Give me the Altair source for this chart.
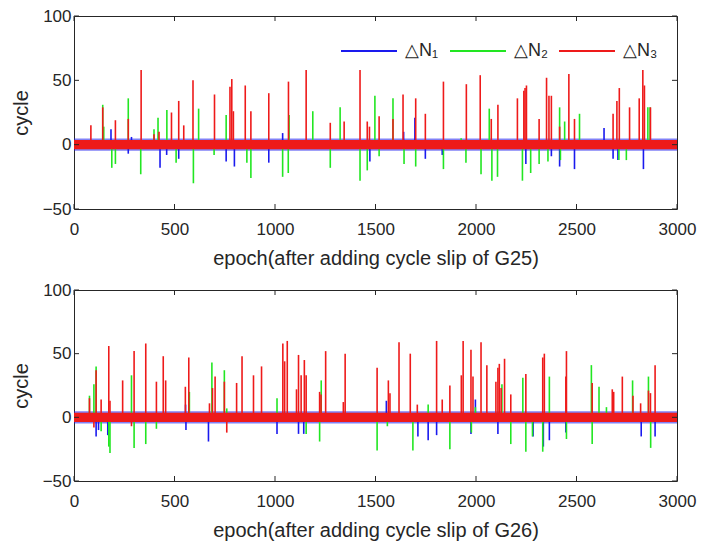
import altair as alt
import pandas as pd

# ---------------- data ----------------
series_names = ["△N₁", "△N₂", "△N₃"]
series_colors = ["#1a1aee", "#22e622", "#ee1a1a"]

x_ticks = [0, 500, 1000, 1500, 2000, 2500, 3000]
y_ticks = [-50, 0, 50, 100]
epoch_range = [0, 3000]

# baseline noise band limits (cycles) for the blue and red series
noise_blue = [-4.8, 4.8]
noise_red = [-3.6, 3.6]

# panel 1: G25  (epoch, cycle-slip value)
blue_g25 = [(184, 12), (270, -7), (286, 6), (428, -18), (461, -8), (521, -11),
            (757, -13), (798, -17), (969, -14), (1038, 9), (1472, -13), (1640, 10),
            (1696, 21), (1748, -11), (1832, -8), (2248, -15), (2375, -9), (2416, -17),
            (2490, -19), (2637, 13), (2682, -11), (2706, -12), (2833, -19)]
green_g25 = [(143, 31), (148, 14), (188, -18), (206, -15), (270, 36), (332, -23),
             (398, 12), (418, 21), (462, 27), (508, -14), (594, -30), (620, 28),
             (697, -8), (757, 23), (860, -14), (880, -26), (1038, -25), (1066, -22),
             (1070, 23), (1188, 26), (1275, -18), (1324, 29), (1423, -28), (1459, -20),
             (1497, 38), (1518, -9), (1587, 36), (1642, -15), (1700, -17), (1838, -19),
             (1926, 5), (1950, -14), (2025, -23), (2066, 28), (2079, -28), (2107, -25),
             (2231, -28), (2272, -22), (2314, -15), (2358, -13), (2416, 29), (2420, -12),
             (2441, 18), (2515, 24), (2711, -12), (2748, -12), (2855, 29), (2866, 29)]
red_g25 = [(84, 15), (143, 29), (206, 19), (270, 20), (334, 58), (398, 8), (423, 10),
           (485, 25), (521, 34), (546, 15), (592, 50), (699, 39), (776, 45), (785, 51),
           (793, 26), (852, 46), (880, 26), (969, 40), (1067, 49), (1155, 58), (1275, 17),
           (1344, 18), (1423, 58), (1459, 18), (1470, 14), (1518, 22), (1587, 20),
           (1637, 39), (1700, 36), (1748, 24), (1838, 49), (1952, 47), (2021, 54),
           (2076, 20), (2109, 31), (2206, 36), (2238, 42), (2244, 44), (2251, 46),
           (2314, 20), (2351, 52), (2363, 38), (2375, 38), (2416, 14), (2462, 55),
           (2490, 20), (2682, 24), (2701, 34), (2713, 44), (2764, 29), (2812, 36),
           (2830, 58), (2838, 46), (2868, 29)]

# panel 2: G26
blue_g26 = [(110, -15), (122, -10), (168, -14), (555, 10), (557, -10), (669, -19),
            (1010, -13), (1117, -13), (1143, -13), (1554, 13), (1711, -15), (1762, -18),
            (1804, -14), (1975, -13), (1997, 14), (2109, -13), (2284, -15), (2335, -23),
            (2365, -18), (2447, -12), (2822, -15), (2891, -15)]
green_g26 = [(77, 17), (99, 26), (110, 40), (135, -11), (173, -23), (179, -28),
             (286, 33), (299, -24), (357, -21), (410, -9), (574, 20), (686, 43),
             (748, 37), (760, 7), (1010, 15), (1155, -13), (1222, -19), (1230, 29),
             (1508, -26), (1559, -7), (1686, -26), (1762, 10), (1870, -25), (1977, -12),
             (1997, 8), (2129, 26), (2173, -21), (2233, 31), (2248, -27), (2281, -15),
             (2332, -27), (2365, 32), (2450, -17), (2574, 41), (2578, -21), (2612, 24),
             (2649, 8), (2779, 29), (2858, 32), (2869, -24)]
red_g26 = [(77, 15), (99, -8), (110, 37), (135, 14), (173, 56), (179, 13), (242, 29),
           (286, -7), (299, 52), (357, 58), (410, 28), (444, 48), (456, 29), (554, 24),
           (571, 47), (674, 11), (689, 23), (702, 32), (748, 28), (760, -12), (809, 27),
           (836, 48), (893, 33), (933, 40), (1039, 58), (1048, 44), (1061, 60),
           (1107, 22), (1117, 49), (1130, 33), (1146, 45), (1155, 33), (1222, 20),
           (1229, 18), (1252, 52), (1340, 12), (1349, 50), (1508, 39), (1564, 29),
           (1572, 19), (1617, 59), (1673, 50), (1708, 10), (1804, 60), (1832, 14),
           (1870, 25), (1927, 33), (1936, 60), (1975, 53), (1985, 32), (2025, 59),
           (2054, 41), (2099, 28), (2109, 39), (2116, 42), (2125, 23), (2142, 46),
           (2173, 18), (2248, 34), (2332, 47), (2340, 50), (2447, 32), (2450, 52),
           (2578, 27), (2678, 22), (2685, 20), (2728, 32), (2781, 17), (2819, 11),
           (2858, 21), (2868, 19), (2891, 41)]

# ---------------- chart ----------------
W = 603
FONT = "Liberation Sans"
INK = "#262626"


def panel(blue, green, red, xtitle, height, show_legend):
    rows = []
    for name, pts in zip(series_names, [blue, green, red]):
        for e, v in pts:
            rows.append({"epoch": e, "value": v, "series": name})
    df = pd.DataFrame(rows)

    xs = alt.Scale(domain=[x_ticks[0], x_ticks[-1]], nice=False)
    ys = alt.Scale(domain=[y_ticks[0], y_ticks[-1]], nice=False)

    if show_legend:
        legend = alt.Legend(orient="none", legendX=266, legendY=6, direction="horizontal",
                            title=None, symbolType="stroke", symbolSize=3136,
                            symbolStrokeWidth=2, labelFontSize=18, labelFont=FONT,
                            labelColor=INK, labelOffset=7, columnPadding=7)
    else:
        legend = None

    def band(lohi, color, opacity):
        d = pd.DataFrame({"start": [epoch_range[0]], "end": [epoch_range[1]],
                          "lo": [lohi[0]], "hi": [lohi[1]]})
        return alt.Chart(d).mark_rect(color=color, opacity=opacity).encode(
            x=alt.X("start:Q", scale=xs), x2="end:Q",
            y=alt.Y("lo:Q", scale=ys), y2="hi:Q")

    axis_common = dict(grid=False, ticks=False, domain=False, labelFont=FONT,
                       labelFontSize=17, labelColor=INK, titleFont=FONT,
                       titleFontSize=20, titleFontWeight="normal", titleColor=INK,
                       format="d")

    spikes = alt.Chart(df).mark_rule(strokeWidth=1.6).encode(
        x=alt.X("epoch:Q", scale=xs,
                axis=alt.Axis(values=x_ticks, title=xtitle, labelFlush=False,
                              labelPadding=12, titlePadding=11, **axis_common)),
        y=alt.Y("value:Q", scale=ys,
                axis=alt.Axis(values=y_ticks, title="cycle", labelPadding=3,
                              titlePadding=11, **axis_common)),
        y2=alt.datum(0),
        color=alt.Color("series:N", scale=alt.Scale(domain=series_names, range=series_colors),
                        legend=legend),
    )

    tx = pd.DataFrame({"t": x_ticks})
    ty = pd.DataFrame({"t": y_ticks})
    tick_bottom = alt.Chart(tx).mark_rule(color=INK).encode(
        x=alt.X("t:Q", scale=xs), y=alt.value(height), y2=alt.value(height - 5))
    tick_top = alt.Chart(tx).mark_rule(color=INK).encode(
        x=alt.X("t:Q", scale=xs), y=alt.value(0), y2=alt.value(5))
    tick_left = alt.Chart(ty).mark_rule(color=INK).encode(
        y=alt.Y("t:Q", scale=ys), x=alt.value(0), x2=alt.value(5))
    tick_right = alt.Chart(ty).mark_rule(color=INK).encode(
        y=alt.Y("t:Q", scale=ys), x=alt.value(W), x2=alt.value(W - 5))

    return alt.layer(
        band(noise_blue, series_colors[0], 0.55),
        spikes,
        band(noise_red, series_colors[2], 1.0),
        tick_bottom, tick_top, tick_left, tick_right,
    ).properties(width=W, height=height)


top = panel(blue_g25, green_g25, red_g25, "epoch(after adding cycle slip of G25)", 193, True)
bottom = panel(blue_g26, green_g26, red_g26, "epoch(after adding cycle slip of G26)", 191, False)

chart = alt.vconcat(top, bottom, spacing=11).resolve_scale(color="independent").properties(
    padding={"left": 2, "top": -2, "right": 0, "bottom": 0},
    background="white",
).configure_view(
    stroke=INK, strokeWidth=1
)

chart.save("out.html", embed_options={"renderer": "svg", "actions": False})
